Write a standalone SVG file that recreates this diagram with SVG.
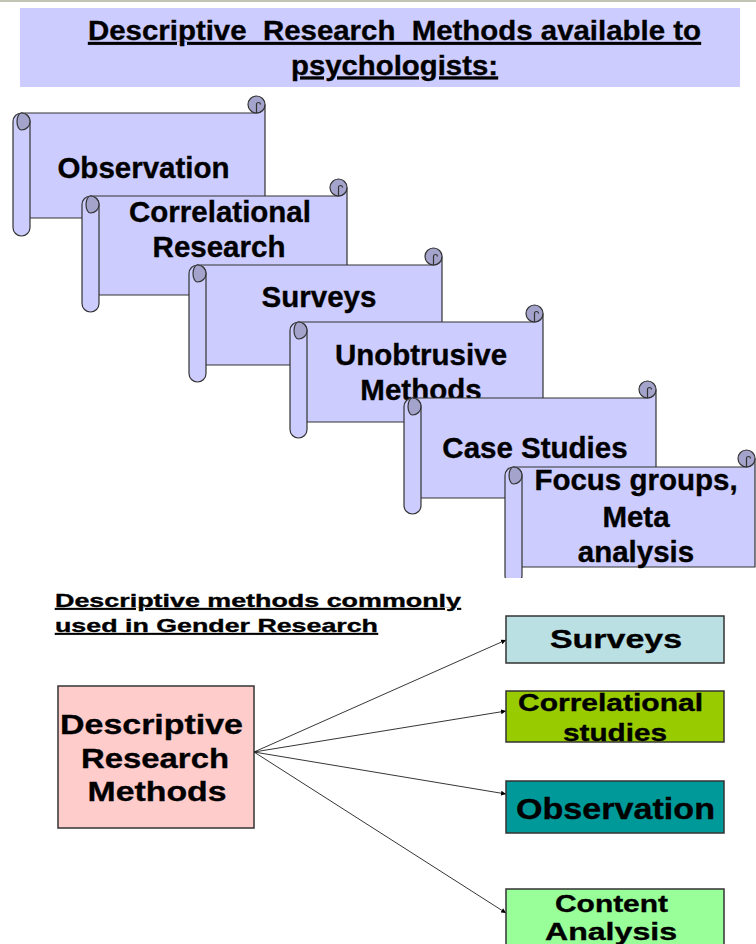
<svg xmlns="http://www.w3.org/2000/svg" width="756" height="944" viewBox="0 0 756 944">
<defs>
<style>
.t{font-family:"Liberation Sans",Arial,sans-serif;font-weight:bold;fill:#000;stroke:#000;stroke-width:0.35}
.title{font-size:28.5px;text-decoration:underline;white-space:pre}
.sc{font-size:29.5px;text-anchor:middle}
.body{fill:#CCCCFF;stroke:#333;stroke-width:1.2}
.dark{fill:#A3A3CC;stroke:#333;stroke-width:1.2}
.ln{fill:none;stroke:#333;stroke-width:1.2}
.box{stroke:#333;stroke-width:1.5}
.con{stroke:#000;stroke-width:0.8;fill:none;marker-end:url(#ah)}
</style>
<marker id="ah" viewBox="0 0 10 10" refX="10" refY="5" markerWidth="5" markerHeight="5" markerUnits="userSpaceOnUse" orient="auto">
<path d="M0,0 L10,5 L0,10 z" fill="#000"/>
</marker>
<clipPath id="topclip"><rect x="0" y="0" width="756" height="578"/></clipPath>
</defs>
<rect width="756" height="944" fill="#fff"/>
<rect x="0" y="0" width="756" height="2" fill="#C4C4B4"/>

<g id="title">
<rect x="20" y="8" width="720" height="79" fill="#CCCCFF"/>
<text class="t title" x="88" y="40" textLength="613" lengthAdjust="spacingAndGlyphs">Descriptive  Research  Methods available to</text>
<text class="t title" x="291" y="74.5" textLength="207" lengthAdjust="spacingAndGlyphs">psychologists:</text>
</g>

<g clip-path="url(#topclip)">
<g id="scroll-observation">
<path class="body" d="M21.5,113 H256.5 A8.5,8.5 0 0 0 265,104.5 V218 H21.5 Z"/>
<path class="body" d="M13,121.5 A8.5,8.5 0 0 1 30,121.5 V227.5 A8.5,8.5 0 0 1 13,227.5 Z"/>
<path class="dark" d="M21.5,113 A8.5,8.5 0 0 1 21.5,130 A4.5,8.5 0 0 1 21.5,113 Z"/>
<circle class="dark" cx="256.5" cy="104.5" r="8.5"/>
<path class="ln" d="M256.5,104.5 V113 M256.5,104.5 a2,2 0 0 1 4,0"/>
<text class="t sc" x="143.5" y="178">Observation</text>
</g>
<g id="scroll-correlational">
<path class="body" d="M90.5,196 H338.5 A8.5,8.5 0 0 0 347,187.5 V295 H90.5 Z"/>
<path class="body" d="M82,204.5 A8.5,8.5 0 0 1 99,204.5 V303.5 A8.5,8.5 0 0 1 82,303.5 Z"/>
<path class="dark" d="M90.5,196 A8.5,8.5 0 0 1 90.5,213 A4.5,8.5 0 0 1 90.5,196 Z"/>
<circle class="dark" cx="338.5" cy="187.5" r="8.5"/>
<path class="ln" d="M338.5,187.5 V196 M338.5,187.5 a2,2 0 0 1 4,0"/>
<text class="t sc" x="220" y="222">Correlational</text>
<text class="t sc" x="219" y="257">Research</text>
</g>
<g id="scroll-surveys">
<path class="body" d="M197.5,265 H433.5 A8.5,8.5 0 0 0 442,256.5 V365 H197.5 Z"/>
<path class="body" d="M189,273.5 A8.5,8.5 0 0 1 206,273.5 V373.5 A8.5,8.5 0 0 1 189,373.5 Z"/>
<path class="dark" d="M197.5,265 A8.5,8.5 0 0 1 197.5,282 A4.5,8.5 0 0 1 197.5,265 Z"/>
<circle class="dark" cx="433.5" cy="256.5" r="8.5"/>
<path class="ln" d="M433.5,256.5 V265 M433.5,256.5 a2,2 0 0 1 4,0"/>
<text class="t sc" x="319" y="307">Surveys</text>
</g>
<g id="scroll-unobtrusive">
<path class="body" d="M298.5,322 H534.5 A8.5,8.5 0 0 0 543,313.5 V422 H298.5 Z"/>
<path class="body" d="M290,330.5 A8.5,8.5 0 0 1 307,330.5 V429.5 A8.5,8.5 0 0 1 290,429.5 Z"/>
<path class="dark" d="M298.5,322 A8.5,8.5 0 0 1 298.5,339 A4.5,8.5 0 0 1 298.5,322 Z"/>
<circle class="dark" cx="534.5" cy="313.5" r="8.5"/>
<path class="ln" d="M534.5,313.5 V322 M534.5,313.5 a2,2 0 0 1 4,0"/>
<text class="t sc" x="421" y="365">Unobtrusive</text>
<text class="t sc" x="421" y="400">Methods</text>
</g>
<g id="scroll-case">
<path class="body" d="M412.5,398 H647.5 A8.5,8.5 0 0 0 656,389.5 V498 H412.5 Z"/>
<path class="body" d="M404,406.5 A8.5,8.5 0 0 1 421,406.5 V505.5 A8.5,8.5 0 0 1 404,505.5 Z"/>
<path class="dark" d="M412.5,398 A8.5,8.5 0 0 1 412.5,415 A4.5,8.5 0 0 1 412.5,398 Z"/>
<circle class="dark" cx="647.5" cy="389.5" r="8.5"/>
<path class="ln" d="M647.5,389.5 V398 M647.5,389.5 a2,2 0 0 1 4,0"/>
<text class="t sc" x="535" y="458">Case Studies</text>
</g>
<g id="scroll-focus">
<path class="body" d="M513.5,467 H746.5 A8.5,8.5 0 0 0 755,458.5 V567 H513.5 Z"/>
<path class="body" d="M505,475.5 A8.5,8.5 0 0 1 522,475.5 V575.5 A8.5,8.5 0 0 1 505,575.5 Z"/>
<path class="dark" d="M513.5,467 A8.5,8.5 0 0 1 513.5,484 A4.5,8.5 0 0 1 513.5,467 Z"/>
<circle class="dark" cx="746.5" cy="458.5" r="8.5"/>
<path class="ln" d="M746.5,458.5 V467 M746.5,458.5 a2,2 0 0 1 4,0"/>
<text class="t sc" x="636" y="490">Focus groups,</text>
<text class="t sc" x="636" y="527">Meta</text>
<text class="t sc" x="636" y="562">analysis</text>
</g>
</g>

<g id="heading">
<text class="t" x="55" y="607" font-size="18.5" text-decoration="underline" textLength="406" lengthAdjust="spacingAndGlyphs">Descriptive methods commonly</text>
<text class="t" x="55" y="632" font-size="18.5" text-decoration="underline" textLength="323" lengthAdjust="spacingAndGlyphs">used in Gender Research</text>
</g>

<g id="connectors">
<line class="con" x1="254" y1="752" x2="506" y2="640"/>
<line class="con" x1="254" y1="752" x2="506" y2="711"/>
<line class="con" x1="254" y1="752" x2="506" y2="794"/>
<line class="con" x1="254" y1="752" x2="506" y2="913"/>
</g>

<g id="node-descriptive">
<rect class="box" x="58" y="686" width="196" height="142" fill="#FFCCCC"/>
<text class="t" x="60" y="734" font-size="28.5" textLength="183" lengthAdjust="spacingAndGlyphs">Descriptive</text>
<text class="t" x="81" y="767.5" font-size="28.5" textLength="148" lengthAdjust="spacingAndGlyphs">Research</text>
<text class="t" x="87.5" y="801" font-size="28.5" textLength="139" lengthAdjust="spacingAndGlyphs">Methods</text>
</g>

<g id="node-surveys">
<rect class="box" x="506" y="616" width="218" height="47" fill="#BBE0E3"/>
<text class="t" x="550" y="648" font-size="26" textLength="132" lengthAdjust="spacingAndGlyphs">Surveys</text>
</g>

<g id="node-correlational">
<rect class="box" x="506" y="691" width="218" height="51" fill="#99CC00"/>
<text class="t" x="518" y="711" font-size="24.5" textLength="185" lengthAdjust="spacingAndGlyphs">Correlational</text>
<text class="t" x="563" y="741" font-size="24.5" textLength="104" lengthAdjust="spacingAndGlyphs">studies</text>
</g>

<g id="node-observation">
<rect class="box" x="506" y="781" width="218" height="52" fill="#009999"/>
<text class="t" x="516" y="819" font-size="29" textLength="199" lengthAdjust="spacingAndGlyphs">Observation</text>
</g>

<g id="node-content">
<rect class="box" x="506" y="889" width="218" height="62" fill="#99FF99"/>
<text class="t" x="555" y="912" font-size="23.5" textLength="113" lengthAdjust="spacingAndGlyphs">Content</text>
<text class="t" x="545" y="940" font-size="23.5" textLength="132" lengthAdjust="spacingAndGlyphs">Analysis</text>
</g>
</svg>
